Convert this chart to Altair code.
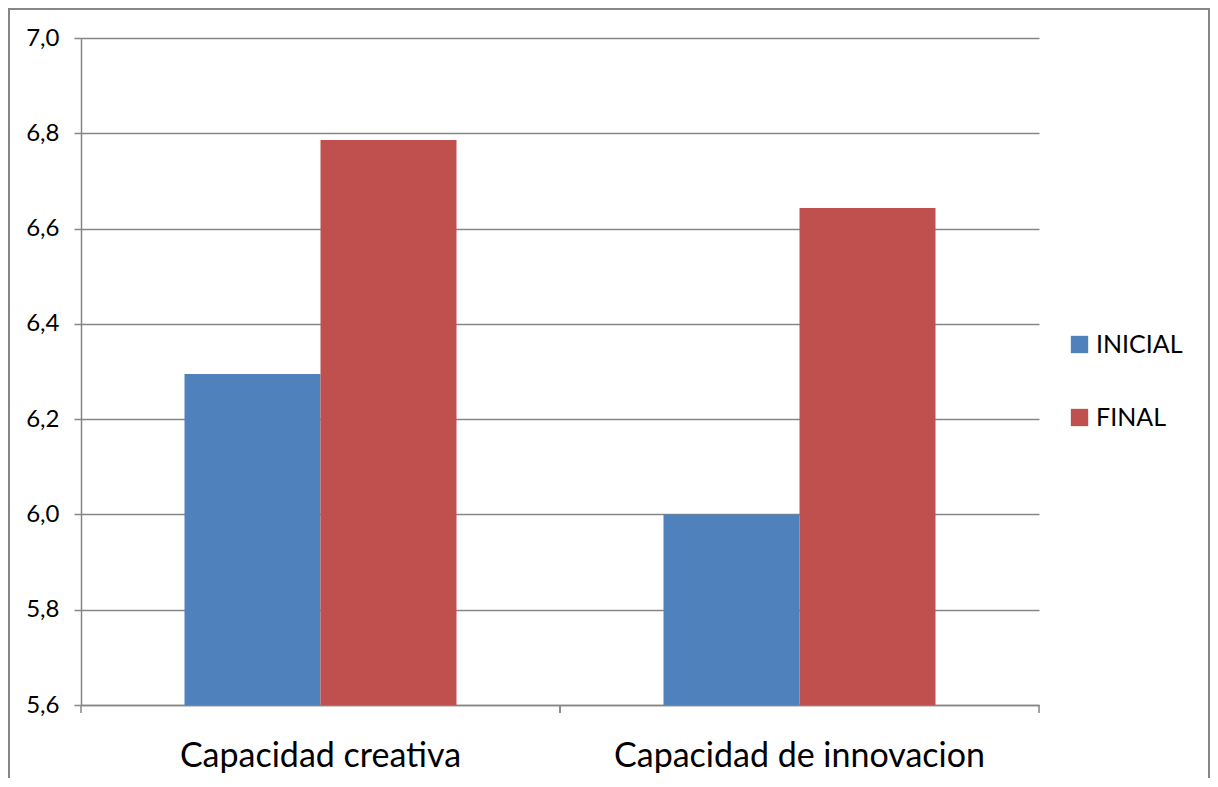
import altair as alt
import pandas as pd

categories = ["Capacidad creativa", "Capacidad de innovacion"]
series = ["INICIAL", "FINAL"]
inicial = [6.295, 6.0]
final = [6.786, 6.643]
y_ticks = [5.6, 5.8, 6.0, 6.2, 6.4, 6.6, 6.8, 7.0]
Y_MIN, Y_MAX = 5.6, 7.0
colors = ["#4F81BD", "#C0504D"]

rows = []
for i, c in enumerate(categories):
    rows.append({"category": c, "serie": "INICIAL", "value": inicial[i]})
    rows.append({"category": c, "serie": "FINAL", "value": final[i]})
df = pd.DataFrame(rows)
cat_df = pd.DataFrame({"category": categories})

FONT = "Lato"
GRAY = "#868686"
W, H = 958, 667
PAD_L, PAD_T, PAD_R, PAD_B = 73, 30, 171, 73

x_scale = alt.Scale(domain=categories, paddingInner=0, paddingOuter=0)
y_scale = alt.Scale(domain=[Y_MIN, Y_MAX], zero=False, nice=False)

bars = alt.Chart(df).mark_bar().encode(
    x=alt.X("category:N", scale=x_scale, sort=categories,
            axis=alt.Axis(title=None, labelAngle=0, ticks=False, domainColor=GRAY,
                          domainWidth=1.5, labelFont=FONT, labelFontSize=34,
                          labelColor="black", labelPadding=34, labelLimit=0,
                          labelFontWeight="normal")),
    xOffset=alt.XOffset("serie:N", sort=series,
                        scale=alt.Scale(domain=series, paddingInner=0, paddingOuter=0.761)),
    y=alt.Y("value:Q", scale=y_scale,
            axis=alt.Axis(title=None, values=y_ticks, grid=True, gridColor=GRAY,
                          gridWidth=1.3, domainColor=GRAY, domainWidth=1.5,
                          tickColor=GRAY, tickSize=7, tickWidth=1.5,
                          labelFont=FONT, labelFontSize=24, labelColor="black",
                          labelPadding=15,
                          labelExpr="replace(format(datum.value, '.1f'), '.', ',')")),
    y2=alt.Y2(datum=Y_MIN),
    color=alt.Color("serie:N", sort=series,
                    scale=alt.Scale(domain=series, range=colors),
                    legend=alt.Legend(title=None, orient="none", legendX=986, legendY=294,
                                      symbolType="square", symbolSize=300,
                                      symbolStrokeWidth=0, labelFont=FONT,
                                      labelFontSize=25, labelColor="black",
                                      rowPadding=47, labelOffset=4)),
)

ticks_left = alt.Chart(cat_df).mark_rule(color=GRAY, strokeWidth=1.5).encode(
    x=alt.X("category:N", scale=x_scale, sort=categories, bandPosition=0),
    y=alt.value(H), y2=alt.value(H + 8),
)
ticks_right = alt.Chart(cat_df).mark_rule(color=GRAY, strokeWidth=1.5).encode(
    x=alt.X("category:N", scale=x_scale, sort=categories, bandPosition=1),
    y=alt.value(H), y2=alt.value(H + 8),
)

frame = alt.Chart(cat_df).mark_rect(fill=None, stroke=GRAY, strokeWidth=2).encode(
    x=alt.value(-PAD_L + 1), x2=alt.value(W + PAD_R - 1),
    y=alt.value(-PAD_T + 1), y2=alt.value(H + PAD_B + 20),
)

chart = alt.layer(bars, ticks_left, ticks_right, frame).properties(
    width=W, height=H,
    autosize=alt.AutoSizeParams(type="none"),
    padding={"left": PAD_L, "top": PAD_T, "right": PAD_R, "bottom": PAD_B},
).configure_view(stroke=None)

chart.save("out.html", embed_options={"renderer": "svg", "actions": False})
